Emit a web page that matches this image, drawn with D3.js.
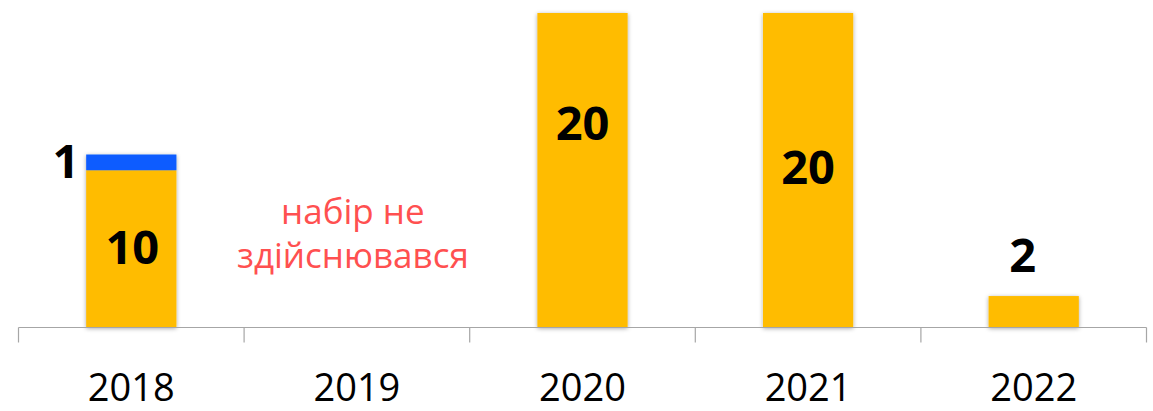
<!DOCTYPE html>
<html><head><meta charset="utf-8">
<script src="https://cdn.jsdelivr.net/npm/d3@7"></script>
<style>body{margin:0;background:#fff}svg{display:block}</style>
</head><body>
<svg id="c" width="1153" height="411"></svg>
<script>
const categories = ["2018","2019","2020","2021","2022"];
const mainValues = [10, null, 20, 20, 2];
const extraValues = [1, null, null, null, null];
const noteLines = ["набір не", "здійснювався"];

const svg = d3.select("#c");
const x0 = 18.5, x1 = 1146.5, yBase = 327.5, yTop = 13;
const x = d3.scaleBand().domain(categories).range([x0, x1]).paddingInner(0.6).paddingOuter(0.3);
const y = d3.scaleLinear().domain([0, 20]).range([yBase, yTop]);

const defs = svg.append("defs");
const f = defs.append("filter").attr("id","sh").attr("x","-20%").attr("y","-20%").attr("width","140%").attr("height","140%");
f.append("feDropShadow").attr("dx",0).attr("dy",1).attr("stdDeviation",2.2).attr("flood-color","#000").attr("flood-opacity",0.35);

const data = categories.map((c,i)=>({c, m: mainValues[i], e: extraValues[i]}));

const g = svg.append("g");
data.forEach(d=>{
  if (d.m == null) return;
  const total = d.m + (d.e || 0);
  const grp = g.append("g").attr("filter","url(#sh)");
  grp.append("rect").attr("x", x(d.c)).attr("width", x.bandwidth())
    .attr("y", y(d.m)).attr("height", y(0)-y(d.m)).attr("fill","#FFBC00");
  if (d.e) {
    grp.append("rect").attr("x", x(d.c)).attr("width", x.bandwidth())
      .attr("y", y(total)).attr("height", y(d.m)-y(total)).attr("fill","#0A5CFF");
  }
});

// axis
const axis = svg.append("g");
axis.append("line").attr("x1", x0).attr("x2", x1).attr("y1", yBase).attr("y2", yBase).attr("stroke","#A6A6A6").attr("stroke-width",1.2);
const step = (x1-x0)/categories.length;
d3.range(categories.length+1).forEach(i=>{
  const xx = x0 + i*step;
  axis.append("line").attr("x1",xx).attr("x2",xx).attr("y1",yBase).attr("y2",yBase+15).attr("stroke","#A6A6A6").attr("stroke-width",1.2);
});
categories.forEach(c=>{
  axis.append("text").attr("x", x(c)+x.bandwidth()/2).attr("y", 401)
    .attr("text-anchor","middle").attr("font-family","'Open Sans', sans-serif").attr("font-size",38).attr("fill","#000").text(c);
});

// value labels
const lab = (xx, yy, t) => svg.append("text").attr("x", xx).attr("y", yy).attr("text-anchor","middle")
  .attr("font-family","'Open Sans', sans-serif").attr("font-weight","bold").attr("font-size",47).attr("fill","#000").text(t);
const cx = c => x(c) + x.bandwidth()/2;
lab(cx("2018")+1, y(5.1)+17, mainValues[0]);
lab(66, y(10.6)+17, extraValues[0]);
lab(cx("2020"), y(13.0)+17, mainValues[2]);
lab(cx("2021"), y(10.2)+17, mainValues[3]);
lab(cx("2022")-11, y(4.6)+17, mainValues[4]);

// note
const note = svg.append("text").attr("text-anchor","middle").attr("font-family","'Open Sans', sans-serif")
  .attr("font-size",35).attr("fill","#FF5050");
noteLines.forEach((t,i)=>{
  note.append("tspan").attr("x", cx("2019")-4).attr("y", 224 + i*44).text(t);
});
</script>
</body></html>
